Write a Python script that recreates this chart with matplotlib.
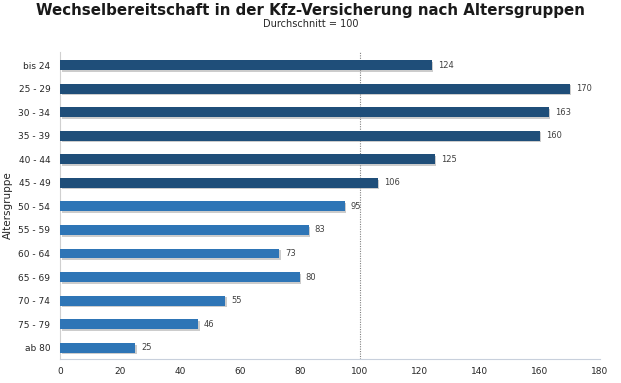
import matplotlib
matplotlib.use("Agg")
import matplotlib.pyplot as plt
import matplotlib.patheffects as pe

categories = ["bis 24", "25 - 29", "30 - 34", "35 - 39", "40 - 44", "45 - 49",
              "50 - 54", "55 - 59", "60 - 64", "65 - 69", "70 - 74", "75 - 79", "ab 80"]
values = [124, 170, 163, 160, 125, 106, 95, 83, 73, 80, 55, 46, 25]
dark_color = "#1f4e79"
light_color = "#2e75b6"
colors = [dark_color] * 6 + [light_color] * 7
x_ticks = [0, 20, 40, 60, 80, 100, 120, 140, 160, 180]

fig = plt.figure(figsize=(6.21, 3.83), dpi=100)
ax = fig.add_axes([0.0966, 0.063, 0.869, 0.801])

ypos = list(range(len(categories)))
bars = ax.barh(ypos, values, height=0.42, color=colors, zorder=3)
for b in bars:
    b.set_path_effects([pe.SimplePatchShadow(offset=(1.2, -1.2), shadow_rgbFace="#9a9a9a", alpha=0.5), pe.Normal()])

for y, v in zip(ypos, values):
    ax.text(v + 2, y, str(v), va="center", ha="left", fontsize=6, color="#404040")

ax.axvline(100, color="#808080", linestyle=(0, (1, 1.2)), linewidth=0.8, zorder=2)

ax.set_xlim(0, 180)
ax.set_ylim(12.47, -0.55)
ax.set_yticks(ypos)
ax.set_yticklabels(categories, fontsize=6.5, color="#262626")
ax.set_xticks(x_ticks)
ax.set_xticklabels([str(t) for t in x_ticks], fontsize=6.5, color="#262626")
ax.tick_params(length=0, pad=6)
ax.tick_params(axis="y", pad=7)

for s in ["top", "right"]:
    ax.spines[s].set_visible(False)
ax.spines["left"].set_color("#d0d0d0")
ax.spines["bottom"].set_color("#c8d0dc")

ax.set_ylabel("Altersgruppe", fontsize=7.5, color="#262626", va="center")
ax.yaxis.set_label_coords(-0.097, 0.5)

fig.text(0.5, 0.972, "Wechselbereitschaft in der Kfz-Versicherung nach Altersgruppen",
         ha="center", va="center", fontsize=10.8, fontweight="bold", color="#1a1a1a")
fig.text(0.5, 0.937, "Durchschnitt = 100", ha="center", va="center", fontsize=7, color="#262626")

fig.savefig("out.png", dpi=100)
